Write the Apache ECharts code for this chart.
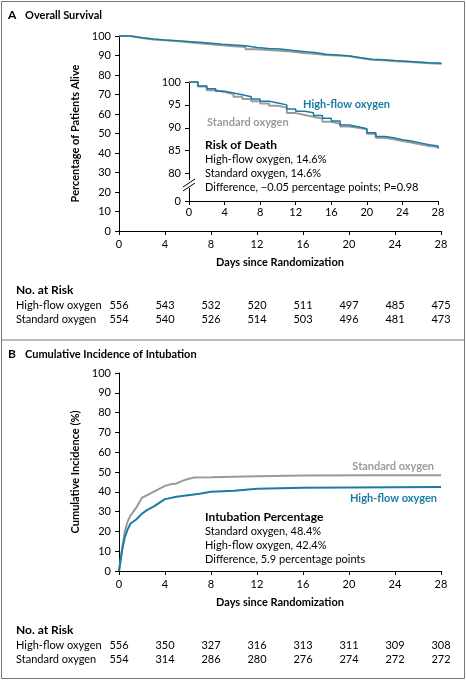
<!DOCTYPE html>
<html><head><meta charset="utf-8">
<script src="https://cdn.jsdelivr.net/npm/echarts@6/dist/echarts.min.js"></script>
<style>html,body{margin:0;padding:0;background:#fff}#c{width:466px;height:680px}</style>
</head><body><div id="c"></div>
<script>
const days = [0,1,2,3,4,5,6,7,8,9,10,11,12,13,14,15,16,17,18,19,20,21,22,23,24,25,26,27,28];
const survHigh = [100,99.1,98.5,98.0,97.6,97.2,96.8,96.3,95.8,95.4,95.0,94.1,93.6,93.3,92.7,92.1,91.5,90.6,90.2,89.8,88.9,88.1,87.8,87.4,87.1,86.7,86.3,86.0,85.6];
const survStd  = [100,99.0,98.2,97.8,97.4,96.8,96.3,95.8,95.3,94.8,94.4,93.2,92.8,92.4,92.0,91.3,90.9,90.3,90.0,89.7,88.7,87.8,87.5,87.1,86.8,86.4,86.0,85.8,85.4];
const intubDaysStd = [0,0.25,0.5,0.75,1,1.5,2,2.5,3,4,4.5,5,5.5,6,6.5,8,12,16,22,28];
const intubStd     = [0,10,20,25,28,32,37,38.5,40,43,43.8,44.2,45.5,46.5,47.2,47.3,47.8,48.2,48.3,48.4];
const intubDaysHigh = [0,0.25,0.5,0.75,1,1.5,2,2.5,3,4,5,6,7,8,10,11,12,16,28];
const intubHigh     = [0,10,17,21,24,26,29,31,32.5,36.3,37.5,38.3,39,40,40.5,41,41.5,42,42.4];
const xTicks = [0,4,8,12,16,20,24,28];
const riskA_high = [556,543,532,520,511,497,485,475];
const riskA_std  = [554,540,526,514,503,496,481,473];
const riskB_high = [556,350,327,316,313,311,309,308];
const riskB_std  = [554,314,286,280,276,274,272,272];

const BLUE = '#1b7ba3', GRAY = '#9a9a9a', F = 'Lato';
const chart = echarts.init(document.getElementById('c'));
const pts = (xs, ys) => xs.map((x, i) => [x, ys[i]]);
const axisCommon = {
  axisLine: {lineStyle: {color: '#000', width: 1}},
  axisTick: {length: 4, lineStyle: {color: '#000'}},
  axisLabel: {color: '#000', fontSize: 11, fontFamily: F},
  splitLine: {show: false}
};
const xAx = (gi, name) => Object.assign({}, axisCommon, {
  type: 'value', gridIndex: gi, min: 0, max: 28, interval: 4,
  name: name, nameLocation: 'middle', nameGap: 26,
  nameTextStyle: {fontWeight: 'bold', fontSize: 11, fontFamily: F, color: '#000'}
});
const option = {
  animation: false,
  grid: [
    {left: 119, top: 36, width: 322, height: 195},
    {left: 189, top: 82, width: 249, height: 119},
    {left: 119, top: 373, width: 322, height: 198}
  ],
  xAxis: [
    Object.assign(xAx(0, 'Days since Randomization'), {axisLabel: Object.assign({}, axisCommon.axisLabel, {margin: 8})}),
    Object.assign(xAx(1, ''), {axisLabel: Object.assign({}, axisCommon.axisLabel, {margin: 6})}),
    xAx(2, 'Days since Randomization')
  ],
  yAxis: [
    Object.assign({}, axisCommon, {type: 'value', gridIndex: 0, min: 0, max: 100, interval: 10,
      name: 'Percentage of Patients Alive', nameLocation: 'middle', nameGap: 32,
      nameTextStyle: {fontWeight: 'bold', fontSize: 11, fontFamily: F, color: '#000'}}),
    Object.assign({}, axisCommon, {type: 'value', gridIndex: 1, min: 74, max: 100,
      axisLabel: Object.assign({}, axisCommon.axisLabel, {customValues: [74,80,85,90,95,100], formatter: v => v === 74 ? '0' : String(v)}),
      axisTick: Object.assign({}, axisCommon.axisTick, {customValues: [74,80,85,90,95,100]})}),
    Object.assign({}, axisCommon, {type: 'value', gridIndex: 2, min: 0, max: 100, interval: 10,
      name: 'Cumulative Incidence (%)', nameLocation: 'middle', nameGap: 32,
      nameTextStyle: {fontWeight: 'bold', fontSize: 11, fontFamily: F, color: '#000'}})
  ],
  series: [
    {type: 'line', xAxisIndex: 0, yAxisIndex: 0, step: 'end', symbol: 'none', data: pts(days, survStd), lineStyle: {color: GRAY, width: 2}},
    {type: 'line', xAxisIndex: 0, yAxisIndex: 0, step: 'end', symbol: 'none', data: pts(days, survHigh), lineStyle: {color: BLUE, width: 1.5}},
    {type: 'line', xAxisIndex: 1, yAxisIndex: 1, step: 'end', symbol: 'none', data: pts(days, survStd), lineStyle: {color: GRAY, width: 2}},
    {type: 'line', xAxisIndex: 1, yAxisIndex: 1, step: 'end', symbol: 'none', data: pts(days, survHigh), lineStyle: {color: BLUE, width: 1.5}},
    {type: 'line', xAxisIndex: 2, yAxisIndex: 2, symbol: 'none', data: pts(intubDaysStd, intubStd), lineStyle: {color: GRAY, width: 2}},
    {type: 'line', xAxisIndex: 2, yAxisIndex: 2, symbol: 'none', data: pts(intubDaysHigh, intubHigh), lineStyle: {color: BLUE, width: 2}}
  ]
};
chart.setOption(option);

const T = (x, y, text, o) => ({type: 'text', x, y, style: Object.assign({text, fontFamily: F, fontSize: 11, fill: '#000', textVerticalAlign: 'middle'}, o || {})});
const g = [
  {type: 'rect', shape: {x: 1.5, y: 1.5, width: 463, height: 677}, style: {fill: 'none', stroke: '#777', lineWidth: 1}},
  {type: 'line', shape: {x1: 1.5, y1: 340, x2: 464.5, y2: 340}, style: {stroke: '#777', lineWidth: 1}},
  T(8, 15, 'A', {fontWeight: 'bold', fontSize: 12}), T(25, 15, 'Overall Survival', {fontWeight: 'bold'}),
  T(8, 354, 'B', {fontWeight: 'bold', fontSize: 12}), T(25, 354, 'Cumulative Incidence of Intubation', {fontWeight: 'bold'}),
  // inset break
  {type: 'rect', shape: {x: 185, y: 180, width: 8, height: 8}, style: {fill: '#fff'}, z: 100},
  {type: 'line', shape: {x1: 183, y1: 187, x2: 195, y2: 179}, style: {stroke: '#000', lineWidth: 1}, z: 101},
  {type: 'line', shape: {x1: 183, y1: 191, x2: 195, y2: 183}, style: {stroke: '#000', lineWidth: 1}, z: 101},
  T(303, 104, 'High-flow oxygen', {fill: BLUE, fontWeight: 'bold'}),
  T(207, 122, 'Standard oxygen', {fill: GRAY, fontWeight: 'bold'}),
  T(205, 145, 'Risk of Death', {fontWeight: 'bold', fontSize: 12}),
  T(205, 159, 'High-flow oxygen, 14.6%'),
  T(205, 173, 'Standard oxygen, 14.6%'),
  T(205, 187, 'Difference, \u22120.05 percentage points; P=0.98'),
  T(434, 466, 'Standard oxygen', {fill: GRAY, fontWeight: 'bold', textAlign: 'right'}),
  T(437, 498, 'High-flow oxygen', {fill: BLUE, fontWeight: 'bold', textAlign: 'right'}),
  T(205, 517, 'Intubation Percentage', {fontWeight: 'bold', fontSize: 12}),
  T(205, 531, 'Standard oxygen, 48.4%'),
  T(205, 545, 'High-flow oxygen, 42.4%'),
  T(205, 559, 'Difference, 5.9 percentage points'),
  T(16, 290, 'No. at Risk', {fontWeight: 'bold', fontSize: 12}),
  T(16, 305, 'High-flow oxygen'), T(16, 319, 'Standard oxygen'),
  T(16, 630, 'No. at Risk', {fontWeight: 'bold', fontSize: 12}),
  T(16, 645, 'High-flow oxygen'), T(16, 659, 'Standard oxygen')
];
const addRow = (arr, gi, y) => xTicks.forEach((d, i) => {
  const px = chart.convertToPixel({xAxisIndex: gi}, d);
  g.push(T(px, y, String(arr[i]), {textAlign: 'center'}));
});
addRow(riskA_high, 0, 305); addRow(riskA_std, 0, 319);
addRow(riskB_high, 2, 645); addRow(riskB_std, 2, 659);
chart.setOption({graphic: g});
</script></body></html>
